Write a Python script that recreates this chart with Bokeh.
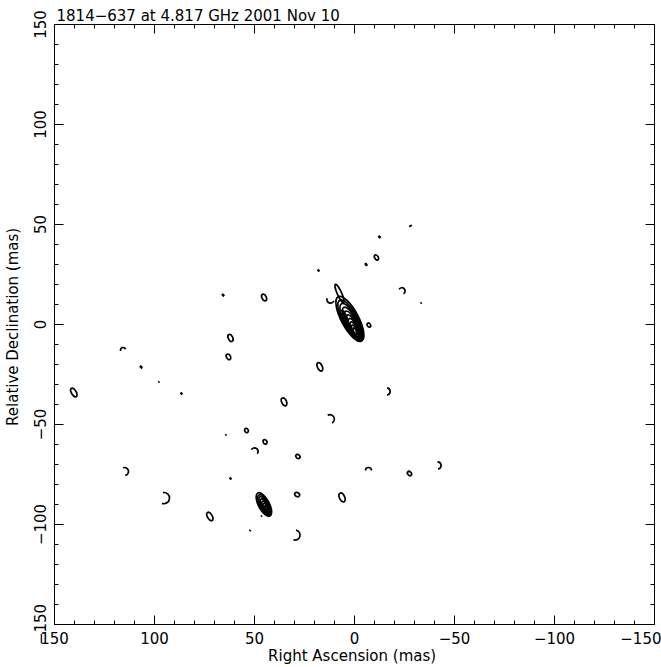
from bokeh.plotting import figure
from bokeh.models import Range1d, LinearAxis, FixedTicker, CustomLabelingPolicy
from bokeh.embed import file_html
from bokeh.resources import INLINE

# ---------------- text ----------------
title_text = "1814−637 at 4.817 GHz 2001 Nov 10"
x_label = "Right Ascension  (mas)"
y_label = "Relative Declination  (mas)"
tick_values = [-150, -100, -50, 0, 50, 100, 150]
tick_labels = ["−150", "−100", "−50", "0", "50", "100", "150"]
minor_values = list(range(-150, 151, 10))

# ---------------- core contours (mas, deg) ----------------
core_x = [2.3, 2.0, 1.6, 1.2, 0.9, 0.6, 0.3, 0.1, 0.0, -0.1, 5.2, 5.2, 7.5]
core_y = [2.8, 2.0, 1.2, 0.4, -0.4, -1.2, -1.8, -2.4, -2.8, -3.1, 3.0, 3.0, 15.5]
core_w = [25.0, 23.0, 20.8, 18.3, 15.8, 13.2, 10.6, 8.0, 5.5, 3.0, 8.5, 5.5, 10.0]
core_h = [8.6, 7.6, 6.7, 5.8, 5.0, 4.3, 3.5, 2.8, 2.1, 1.3, 3.0, 1.8, 2.2]
core_a = [-62, -62, -62, -63, -63, -64, -64, -65, -65, -65, -70, -70, -66]

# ---------------- secondary component ----------------
comp_x = [45.3, 45.1, 44.9, 44.7, 44.5, 44.4, 44.3]
comp_y = [-90.0, -90.3, -90.6, -90.9, -91.2, -91.5, -91.7]
comp_w = [13.0, 11.5, 10.0, 8.2, 6.4, 4.4, 2.2]
comp_h = [5.4, 4.6, 3.8, 3.1, 2.4, 1.7, 1.0]
comp_a = [-62, -62, -62, -62, -62, -62, -62]

# ---------------- small closed loops ----------------
loop_x = [45.2, 62.0, 63.0, 17.3, 35.2, 140.3, 54.0, 44.7, 28.3, 28.7, 6.2, 72.3, -11.0, -7.2, -27.5]
loop_y = [13.5, -6.7, -16.2, -21.2, -38.7, -34.0, -53.0, -58.7, -66.0, -85.0, -86.5, -96.0, 33.5, -0.3, -74.5]
loop_w = [3.6, 3.8, 3.0, 4.5, 4.2, 4.8, 2.2, 2.4, 2.4, 2.6, 4.8, 4.6, 2.8, 2.2, 2.4]
loop_h = [2.2, 2.2, 2.0, 2.4, 2.4, 2.4, 1.8, 1.8, 1.8, 2.0, 2.6, 2.4, 1.8, 1.6, 1.8]
loop_a = [-65, -65, -60, -65, -65, -60, -60, -60, -40, -30, -65, -60, -60, -60, -45]

# ---------------- tiny (filled) loops ----------------
dot_x = [65.7, 106.7, 97.8, 86.5, 64.3, 62.0, 46.5, 52.2, -28.0, -12.5, -5.8, -33.3, 18.0]
dot_y = [14.7, -21.3, -28.7, -34.5, -55.2, -77.0, -95.8, -103.0, 49.3, 43.8, 30.0, 10.7, 27.0]
dot_w = [1.4, 1.6, 0.7, 1.2, 0.7, 1.2, 0.7, 0.8, 1.4, 1.4, 1.6, 0.7, 1.2]
dot_h = [1.0, 1.0, 0.5, 0.9, 0.5, 0.9, 0.5, 0.5, 0.6, 1.0, 1.0, 0.5, 0.9]
dot_a = [-60, -60, -60, -60, -60, -60, -60, -60, 20, -60, -60, -60, -60]

# ---------------- open contour pieces ----------------
arc_x = [12.0, 115.7, 12.3, 50.0, 115.0, 95.3, 29.7, -23.7, -16.0, -41.5, -7.0]
arc_y = [12.5, -12.8, -47.3, -63.5, -73.5, -86.8, -105.3, 16.8, -33.5, -70.5, -73.0]
arc_r = [1.8, 1.3, 2.2, 1.8, 2.0, 2.8, 2.5, 1.6, 1.8, 1.8, 1.5]
arc_s = [160, 20, -60, -40, -80, -110, -110, -60, -80, -80, 0]
arc_e = [340, 200, 120, 150, 110, 100, 80, 150, 80, 90, 180]

p = figure(frame_width=600, frame_height=600,
           x_range=Range1d(150, -150), y_range=Range1d(-150, 150),
           output_backend="svg", toolbar_location=None,
           min_border_left=54, min_border_right=7, min_border_top=24,
           min_border_bottom=43, title=title_text)
p.grid.visible = False
p.outline_line_color = "black"
p.outline_line_width = 1
p.background_fill_color = "white"
p.border_fill_color = "white"

p.title.text_font = "DejaVu Sans"
p.title.text_font_size = "15px"
p.title.text_font_style = "normal"
p.title.text_color = "black"
p.title.align = "left"
p.title.offset = 2
p.title.standoff = 0

p.add_layout(LinearAxis(), "above")
p.add_layout(LinearAxis(), "right")

overrides = {v: s for v, s in zip(tick_values, tick_labels)}
for ax in p.axis:
    ax.ticker = FixedTicker(ticks=tick_values, minor_ticks=minor_values)
    ax.major_tick_in = 9
    ax.major_tick_out = 0
    ax.minor_tick_in = 4
    ax.minor_tick_out = 0
    ax.axis_line_color = "black"
    ax.major_tick_line_color = "black"
    ax.minor_tick_line_color = "black"
    ax.major_label_overrides = overrides
    ax.major_label_text_font = "DejaVu Sans"
    ax.major_label_text_font_size = "15px"
    ax.major_label_text_color = "black"
    ax.axis_label_text_font = "DejaVu Sans"
    ax.axis_label_text_font_style = "normal"
    ax.axis_label_text_font_size = "15px"
    ax.axis_label_text_color = "black"

for ax in (p.above[0], p.right[0]):
    ax.major_label_text_font_size = "0px"
    ax.major_label_standoff = 0
    ax.axis_label_standoff = 0
    ax.major_label_policy = CustomLabelingPolicy(code="return []")

xb = p.below[0]
xb.axis_label = x_label
xb.major_label_standoff = 7
xb.axis_label_standoff = 0

yl = p.left[0]
yl.axis_label = y_label
yl.major_label_orientation = "vertical"
yl.major_label_standoff = 9
yl.axis_label_standoff = 9

lw = 1.7
p.ellipse(x=core_x, y=core_y, width=core_w, height=core_h, angle=core_a,
          angle_units="deg", fill_color=None, line_color="black", line_width=lw)
p.ellipse(x=comp_x, y=comp_y, width=comp_w, height=comp_h, angle=comp_a,
          angle_units="deg", fill_color=None, line_color="black", line_width=lw)
p.ellipse(x=loop_x, y=loop_y, width=loop_w, height=loop_h, angle=loop_a,
          angle_units="deg", fill_color=None, line_color="black", line_width=lw)
p.ellipse(x=dot_x, y=dot_y, width=dot_w, height=dot_h, angle=dot_a,
          angle_units="deg", fill_color="black", line_color="black", line_width=1)
p.arc(x=arc_x, y=arc_y, radius=arc_r, start_angle=arc_s, end_angle=arc_e,
      start_angle_units="deg", end_angle_units="deg", direction="anticlock",
      line_color="black", line_width=lw)

open("out.html", "w").write(file_html(p, INLINE))
